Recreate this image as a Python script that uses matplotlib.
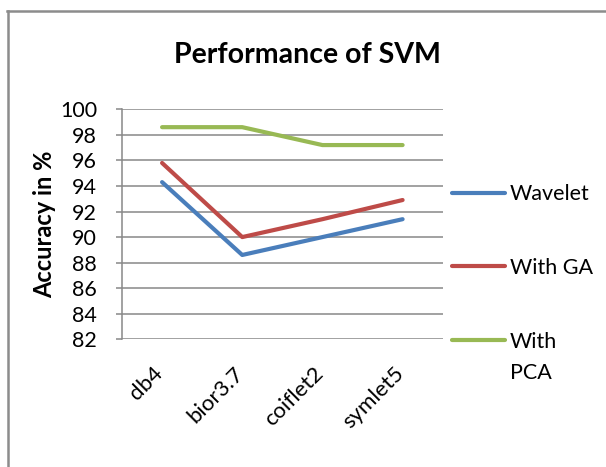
import matplotlib
matplotlib.use('Agg')
import matplotlib.pyplot as plt
import matplotlib.transforms as mtrans
from matplotlib.lines import Line2D

plt.rcParams['font.family'] = ['Lato', 'DejaVu Sans']

wavelets = ['db4', 'bior3.7', 'coiflet2', 'symlet5']
acc_wavelet = [94.3, 88.6, 90.0, 91.4]
acc_ga = [95.8, 90.0, 91.4, 92.9]
acc_pca = [98.6, 98.6, 97.2, 97.2]
# legend text of the last series wraps onto two lines, as in the original
series_names = ['Wavelet', 'With GA', 'With', 'PCA']
yticks = list(range(82, 101, 2))

fig = plt.figure(figsize=(6.06, 4.67), dpi=100)
ax = fig.add_axes([0.2013, 0.2734, 0.5292, 0.4926])

x = range(len(wavelets))
ax.plot(x, acc_wavelet, color='#4A7EBB', lw=3, solid_capstyle='round', label=series_names[0])
ax.plot(x, acc_ga, color='#BE4B48', lw=3, solid_capstyle='round', label=series_names[1])
ax.plot(x, acc_pca, color='#98B954', lw=3, solid_capstyle='round', label=series_names[2])

ax.set_xlim(-0.5, len(wavelets) - 0.5)
ax.set_ylim(82, 100)
ax.set_yticks(yticks)
ax.yaxis.grid(True, color='#888888', lw=1.1)
ax.set_axisbelow(True)
for s in ['top', 'right', 'bottom']:
    ax.spines[s].set_visible(False)
ax.spines['left'].set_color('#888888')
ax.spines['left'].set_linewidth(1.1)
ax.tick_params(axis='y', length=4, color='#888888', width=1.1, pad=14, labelsize=15.5)
ax.tick_params(axis='x', length=0, pad=17, labelsize=16)
ax.set_xticks(list(x))
ax.set_xticklabels(wavelets, rotation=45, ha='right', va='top')
off = mtrans.ScaledTranslation(5 / 100, 0, fig.dpi_scale_trans)
for lbl in ax.get_xticklabels():
    lbl.set_transform(lbl.get_transform() + off)

ax.set_ylabel('Accuracy in %', fontsize=17, fontweight='bold', labelpad=3)
fig.text(0.508, 0.882, 'Performance of SVM', fontsize=20.5, fontweight='bold',
         ha='center', va='center')

leg = ax.legend(loc='upper left', bbox_to_anchor=(0.981, 0.74), frameon=False,
                fontsize=15.5, handlelength=2.5, handletextpad=0.2,
                labelspacing=2.5, borderaxespad=0.3)
# second line of the last legend label, drawn after the legend is laid out
ax.annotate(series_names[3], xy=(0, 0), xycoords=leg.get_texts()[2],
            xytext=(0, -8), textcoords='offset points', ha='left', va='top',
            fontsize=15.5, zorder=10, annotation_clip=False)

# outer chart border (top and left edges only visible)
fig.add_artist(Line2D([7 / 606, 1], [1 - 11 / 467, 1 - 11 / 467], color='#8C8C8C', lw=1.8))
fig.add_artist(Line2D([8 / 606, 8 / 606], [0, 1 - 11 / 467], color='#8C8C8C', lw=1.8))

fig.savefig('out.png', dpi=100)
